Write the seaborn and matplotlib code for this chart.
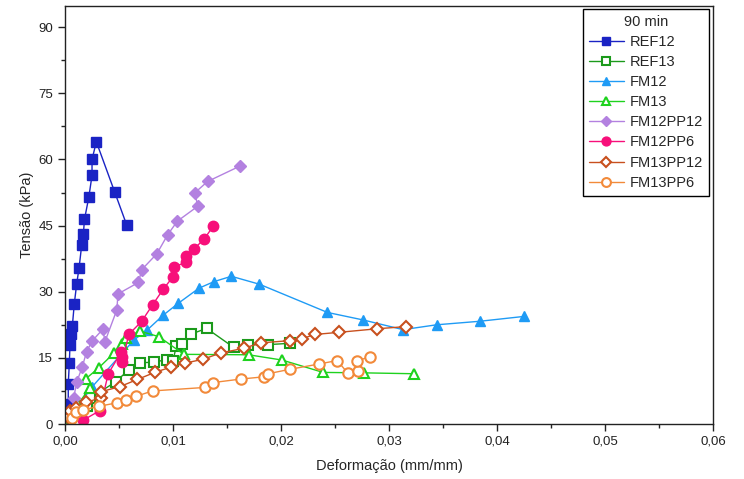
import matplotlib
matplotlib.use("Agg")
import matplotlib.pyplot as plt
from matplotlib.ticker import MultipleLocator, FuncFormatter
import seaborn as sns
import pandas as pd

# Stress-strain readings, 90 min curing
ref12_x = [0.0003, 0.0003, 0.0004, 0.00046, 0.00056, 0.00068, 0.00086, 0.00108, 0.0013, 0.00154,
           0.0017, 0.0018, 0.0022, 0.0025, 0.0025, 0.0029, 0.0046, 0.0057]
ref12_y = [4.5, 9.1, 13.9, 18.0, 20.4, 22.3, 27.3, 31.8, 35.4, 40.5,
           43.1, 46.4, 51.4, 56.4, 60.0, 64.0, 52.6, 45.2]

ref13_x = [0.0020, 0.0023, 0.0047, 0.0059, 0.0069, 0.0082, 0.0094, 0.0100, 0.0103, 0.0108,
           0.0117, 0.0131, 0.0156, 0.0169, 0.0188, 0.0208]
ref13_y = [4.1, 5.8, 9.6, 12.3, 13.9, 14.0, 14.6, 14.4, 17.6, 18.2,
           20.4, 21.7, 17.4, 18.0, 18.0, 18.3]

fm12_x = [0.0, 0.0025, 0.0064, 0.0076, 0.0091, 0.0105, 0.0124, 0.0138, 0.0154, 0.0180,
          0.0243, 0.0276, 0.0313, 0.0344, 0.0384, 0.0425]
fm12_y = [0.0, 8.4, 19.1, 21.3, 24.7, 27.4, 30.8, 32.3, 33.5, 31.7,
          25.3, 23.6, 21.4, 22.5, 23.3, 24.4]

fm13_x = [0.0, 0.0012, 0.0023, 0.0019, 0.0031, 0.0045, 0.0053, 0.0056, 0.0069, 0.0087,
          0.0110, 0.0170, 0.0201, 0.0239, 0.0277, 0.0323]
fm13_y = [0.0, 4.5, 8.2, 10.2, 12.7, 16.0, 18.1, 19.4, 21.1, 19.8,
          15.8, 15.7, 14.5, 11.7, 11.6, 11.4]

fm12pp12_x = [0.0008, 0.0011, 0.0016, 0.0020, 0.0025, 0.0035, 0.0037, 0.0048, 0.0049, 0.0068,
              0.0071, 0.0085, 0.0095, 0.0104, 0.0123, 0.0120, 0.0132, 0.0162]
fm12pp12_y = [6.0, 9.6, 13.0, 16.4, 18.8, 21.5, 18.7, 25.9, 29.5, 32.1,
              35.0, 38.6, 42.9, 46.0, 49.4, 52.4, 55.0, 58.5]

fm12pp6_x = [0.0017, 0.0032, 0.0040, 0.0052, 0.0053, 0.0053, 0.0059, 0.0071, 0.0081, 0.0091,
             0.0100, 0.0101, 0.0112, 0.0112, 0.0119, 0.0129, 0.0137]
fm12pp6_y = [0.9, 3.0, 11.4, 16.3, 15.2, 14.0, 20.3, 23.3, 27.0, 30.6,
             33.4, 35.6, 36.7, 38.0, 39.6, 42.0, 44.8]

fm13pp12_x = [0.0003, 0.0005, 0.0010, 0.0019, 0.0033, 0.0033, 0.0051, 0.0067, 0.0083, 0.0098,
              0.0111, 0.0128, 0.0144, 0.0166, 0.0181, 0.0208, 0.0219, 0.0231, 0.0254, 0.0289, 0.0316]
fm13pp12_y = [1.6, 3.0, 3.6, 4.9, 5.9, 7.3, 8.5, 10.1, 11.7, 12.9,
              13.8, 14.7, 16.1, 17.2, 18.4, 18.9, 19.3, 20.3, 20.8, 21.6, 22.1]

fm13pp6_x = [0.0006, 0.0010, 0.0017, 0.0031, 0.0048, 0.0056, 0.0066, 0.0081, 0.0130, 0.0137,
             0.0163, 0.0184, 0.0188, 0.0208, 0.0235, 0.0252, 0.0262, 0.0271, 0.0270, 0.0282]
fm13pp6_y = [1.3, 2.8, 3.2, 4.0, 4.8, 5.5, 6.3, 7.5, 8.3, 9.4,
             10.2, 10.7, 11.4, 12.4, 13.6, 14.4, 11.5, 12.1, 14.2, 15.3]

series_names = ["REF12", "REF13", "FM12", "FM13", "FM12PP12", "FM12PP6", "FM13PP12", "FM13PP6"]
series_x = [ref12_x, ref13_x, fm12_x, fm13_x, fm12pp12_x, fm12pp6_x, fm13pp12_x, fm13pp6_x]
series_y = [ref12_y, ref13_y, fm12_y, fm13_y, fm12pp12_y, fm12pp6_y, fm13pp12_y, fm13pp6_y]

colors = ["#1a23c4", "#1b9a1b", "#1f9bf5", "#1ed21e", "#b381e0", "#f70f7a", "#c8501e", "#f28a3a"]
markers = ["s", "s", "^", "^", "D", "o", "D", "o"]
filled = [True, False, True, False, True, True, False, False]
sizes = [6.5, 6.5, 7.5, 7.5, 6.5, 7.5, 6.5, 7.5]

sns.set_style("ticks")
plt.rcParams["font.family"] = ["Liberation Sans", "DejaVu Sans"]

fig = plt.figure(figsize=(7.44, 4.79), dpi=100)
ax = fig.add_axes([0.0874, 0.1148, 0.8710, 0.8727])

for name, xs, ys, c, m, f, ms in zip(series_names, series_x, series_y, colors, markers, filled, sizes):
    df = pd.DataFrame({"Deformação": xs, "Tensão": ys})
    sns.lineplot(
        data=df, x="Deformação", y="Tensão", ax=ax,
        estimator=None, sort=False, color=c, linewidth=1.0,
        marker=m, markersize=ms,
        markerfacecolor=c if f else "white",
        markeredgecolor=c, markeredgewidth=1.0 if f else 1.5,
        label=name,
    )

ax.set_xlim(0, 0.06)
ax.set_ylim(0, 94.8)
ax.xaxis.set_major_locator(MultipleLocator(0.01))
ax.xaxis.set_minor_locator(MultipleLocator(0.005))
ax.yaxis.set_major_locator(MultipleLocator(15))
ax.yaxis.set_minor_locator(MultipleLocator(7.5))
ax.xaxis.set_major_formatter(FuncFormatter(lambda v, p: f"{v:.2f}".replace(".", ",")))
ax.yaxis.set_major_formatter(FuncFormatter(lambda v, p: f"{v:.0f}"))
ax.tick_params(which="major", direction="out", length=5, width=1, labelsize=9.5, colors="#222222")
ax.tick_params(which="minor", direction="out", length=3, width=1, colors="#222222")
for sp in ax.spines.values():
    sp.set_visible(True)
    sp.set_linewidth(1.0)
    sp.set_color("#222222")

ax.set_xlabel("Deformação (mm/mm)", fontsize=10.5, labelpad=8)
ax.set_ylabel("Tensão (kPa)", fontsize=10.5, labelpad=3)

leg = ax.legend(title="90 min", loc="upper right", bbox_to_anchor=(0.993, 0.993),
                fontsize=10.5, title_fontsize=10.5, frameon=True, fancybox=False,
                edgecolor="black", framealpha=1, handlelength=2.4, handletextpad=0.4,
                labelspacing=0.42, borderpad=0.4, borderaxespad=0.0, markerscale=0.85)
leg.get_frame().set_linewidth(1.0)

fig.savefig("out.png", dpi=100)
